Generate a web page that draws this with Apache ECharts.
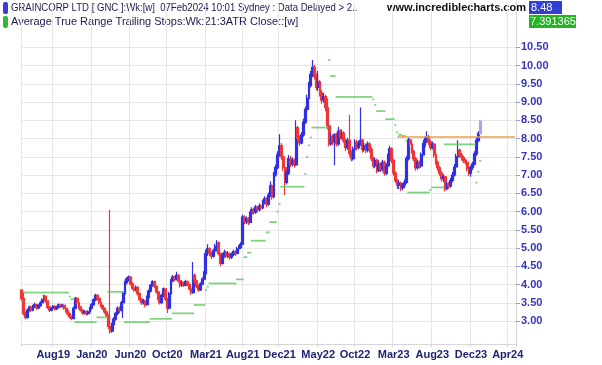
<!DOCTYPE html>
<html>
<head>
<meta charset="utf-8">
<script src="https://cdn.jsdelivr.net/npm/echarts@6/dist/echarts.min.js"></script>
<style>
  html, body { margin: 0; padding: 0; background: #fff; }
  #chart { width: 602px; height: 365px; }
</style>
</head>
<body>
<div id="chart"></div>
<script>
// weekly bars, GNC, from week of 29 Apr 2019 to week of 5 Feb 2024
const opens = [
  3.85, 3.62, 3.20, 3.10, 3.30, 3.38, 3.30, 3.40, 3.45, 3.36,
  3.42, 3.50, 3.58, 3.68, 3.55, 3.38, 3.30, 3.35, 3.40, 3.33,
  3.38, 3.44, 3.40, 3.43, 3.35, 3.28, 3.20, 3.12, 3.07, 3.35,
  3.62, 3.50, 3.38, 3.30, 3.22, 3.26, 3.20, 3.25, 3.35, 3.45,
  3.58, 3.70, 3.62, 3.50, 3.42, 3.35, 3.25, 3.15, 2.85, 2.72,
  2.90, 3.05, 3.20, 3.35, 3.30, 3.50, 3.75, 4.05, 4.15, 4.20,
  4.02, 3.90, 3.85, 3.92, 3.75, 3.60, 3.50, 3.55, 3.45, 3.65,
  3.82, 3.98, 4.08, 3.95, 3.80, 3.62, 3.50, 3.70, 3.88, 3.60,
  3.35, 3.75, 4.10, 4.20, 4.15, 4.25, 4.10, 3.98, 4.05, 3.98,
  4.08, 4.00, 3.88, 3.78, 4.25, 4.10, 3.95, 3.85, 4.02, 4.15,
  4.30, 4.85, 4.98, 4.85, 4.78, 4.92, 5.05, 5.15, 4.85, 4.58,
  4.80, 4.88, 4.78, 4.85, 4.75, 4.82, 4.90, 4.85, 4.98, 5.02,
  5.10, 5.85, 5.72, 5.80, 5.70, 5.95, 6.05, 5.98, 6.12, 6.05,
  6.15, 6.10, 6.25, 6.35, 6.20, 6.45, 6.70, 6.40, 7.00, 7.20,
  7.55, 7.80, 7.50, 7.20, 6.80, 7.05, 7.45, 7.30, 7.40, 7.28,
  8.30, 8.00, 7.88, 8.10, 8.45, 8.80, 9.10, 9.45, 9.75, 9.95,
  9.70, 9.40, 9.55, 9.25, 9.05, 9.15, 8.85, 8.35, 7.85, 8.05,
  7.90, 8.10, 7.85, 8.20, 8.05, 8.15, 7.95, 7.75, 7.95, 7.60,
  7.45, 7.70, 7.90, 7.75, 7.85, 7.95, 7.70, 7.80, 7.68, 7.85,
  7.70, 7.45, 7.25, 7.40, 7.12, 7.30, 7.15, 7.35, 7.05, 7.25,
  7.50, 7.72, 7.40, 7.05, 6.85, 6.72, 6.78, 6.65, 6.72, 6.80,
  7.45, 7.96, 7.85, 7.65, 7.45, 7.20, 7.35, 7.25, 7.55, 7.80,
  7.95, 8.05, 7.90, 7.75, 7.85, 7.55, 7.35, 7.20, 7.05, 6.90,
  6.95, 6.62, 6.75, 6.70, 6.85, 7.00, 7.22, 7.50, 7.68, 7.55,
  7.48, 7.40, 7.35, 7.18, 7.05, 7.20, 7.30, 7.58, 7.95, 8.14
];
const closes = [
  3.62, 3.20, 3.10, 3.30, 3.38, 3.30, 3.40, 3.45, 3.36, 3.42,
  3.50, 3.58, 3.68, 3.55, 3.38, 3.30, 3.35, 3.40, 3.33, 3.38,
  3.44, 3.40, 3.43, 3.35, 3.28, 3.20, 3.12, 3.07, 3.35, 3.62,
  3.50, 3.38, 3.30, 3.22, 3.26, 3.20, 3.25, 3.35, 3.45, 3.58,
  3.70, 3.62, 3.50, 3.42, 3.35, 3.25, 3.15, 2.85, 2.72, 2.90,
  3.05, 3.20, 3.35, 3.30, 3.50, 3.75, 4.05, 4.15, 4.20, 4.02,
  3.90, 3.85, 3.92, 3.75, 3.60, 3.50, 3.55, 3.45, 3.65, 3.82,
  3.98, 4.08, 3.95, 3.80, 3.62, 3.50, 3.70, 3.88, 3.60, 3.35,
  3.75, 4.10, 4.20, 4.15, 4.25, 4.10, 3.98, 4.05, 3.98, 4.08,
  4.00, 3.88, 3.78, 4.25, 4.10, 3.95, 3.85, 4.02, 4.15, 4.30,
  4.85, 4.98, 4.85, 4.78, 4.92, 5.05, 5.15, 4.85, 4.58, 4.80,
  4.88, 4.78, 4.85, 4.75, 4.82, 4.90, 4.85, 4.98, 5.02, 5.10,
  5.85, 5.72, 5.80, 5.70, 5.95, 6.05, 5.98, 6.12, 6.05, 6.15,
  6.10, 6.25, 6.35, 6.20, 6.45, 6.70, 6.40, 7.00, 7.20, 7.55,
  7.80, 7.50, 7.20, 6.80, 7.05, 7.45, 7.30, 7.40, 7.28, 8.30,
  8.00, 7.88, 8.10, 8.45, 8.80, 9.10, 9.45, 9.75, 9.95, 9.70,
  9.40, 9.55, 9.25, 9.05, 9.15, 8.85, 8.35, 7.85, 8.05, 7.90,
  8.10, 7.85, 8.20, 8.05, 8.15, 7.95, 7.75, 7.95, 7.60, 7.45,
  7.70, 7.90, 7.75, 7.85, 7.95, 7.70, 7.80, 7.68, 7.85, 7.70,
  7.45, 7.25, 7.40, 7.12, 7.30, 7.15, 7.35, 7.05, 7.25, 7.50,
  7.72, 7.40, 7.05, 6.85, 6.72, 6.78, 6.65, 6.72, 6.80, 7.45,
  7.96, 7.85, 7.65, 7.45, 7.20, 7.35, 7.25, 7.55, 7.80, 7.95,
  8.05, 7.90, 7.75, 7.85, 7.55, 7.35, 7.20, 7.05, 6.90, 6.95,
  6.62, 6.75, 6.70, 6.85, 7.00, 7.22, 7.50, 7.68, 7.55, 7.48,
  7.40, 7.35, 7.18, 7.05, 7.20, 7.30, 7.58, 7.95, 8.14, 8.48
];
const lows = [
  3.55, 3.15, 3.04, 3.06, 3.26, 3.25, 3.27, 3.36, 3.31, 3.32,
  3.39, 3.46, 3.55, 3.50, 3.33, 3.25, 3.26, 3.31, 3.29, 3.30,
  3.34, 3.35, 3.36, 3.31, 3.23, 3.15, 3.07, 3.02, 3.04, 3.32,
  3.45, 3.33, 3.26, 3.17, 3.18, 3.15, 3.16, 3.22, 3.31, 3.42,
  3.55, 3.57, 3.45, 3.37, 3.30, 3.20, 3.10, 2.78, 2.65, 2.68,
  2.86, 3.01, 3.16, 3.22, 3.26, 3.08, 3.72, 4.00, 4.08, 3.97,
  3.85, 3.80, 3.81, 3.70, 3.55, 3.44, 3.45, 3.38, 3.42, 3.62,
  3.78, 3.94, 3.90, 3.75, 3.57, 3.45, 3.47, 3.66, 3.55, 3.22,
  3.32, 3.72, 4.06, 4.09, 4.11, 4.05, 3.92, 3.94, 3.93, 3.95,
  3.95, 3.83, 3.72, 3.75, 4.04, 3.90, 3.80, 3.82, 3.98, 4.12,
  4.27, 4.78, 4.78, 4.70, 4.74, 4.88, 5.00, 4.80, 4.50, 4.55,
  4.74, 4.72, 4.73, 4.68, 4.70, 4.78, 4.79, 4.82, 4.93, 4.98,
  5.08, 5.65, 5.66, 5.63, 5.67, 5.90, 5.91, 5.94, 5.98, 6.01,
  6.03, 6.06, 6.20, 6.12, 6.16, 6.40, 6.32, 6.36, 6.95, 7.15,
  7.50, 7.42, 7.12, 6.45, 6.74, 7.00, 7.22, 7.24, 7.20, 7.25,
  7.92, 7.80, 7.84, 8.05, 8.40, 8.75, 9.05, 9.40, 9.68, 9.62,
  9.32, 9.30, 9.15, 8.95, 8.98, 8.75, 8.25, 7.78, 7.80, 7.82,
  7.27, 7.78, 7.80, 7.98, 7.98, 7.88, 7.66, 7.70, 7.50, 7.38,
  7.40, 7.64, 7.68, 7.70, 7.80, 7.62, 7.64, 7.60, 7.62, 7.62,
  7.38, 7.18, 7.20, 7.05, 7.08, 7.08, 7.10, 6.98, 7.00, 7.20,
  7.45, 7.32, 6.98, 6.78, 6.62, 6.62, 6.56, 6.58, 6.64, 6.76,
  7.40, 7.78, 7.58, 7.38, 7.12, 7.15, 7.18, 7.20, 7.50, 7.74,
  7.88, 7.82, 7.68, 7.70, 7.48, 7.28, 7.12, 6.98, 6.82, 6.80,
  6.55, 6.58, 6.62, 6.65, 6.80, 6.96, 7.18, 7.45, 7.48, 7.40,
  7.32, 7.28, 7.10, 6.98, 6.95, 7.14, 7.26, 7.52, 7.90, 8.10
];
const highs = [
  3.88, 3.80, 3.26, 3.34, 3.42, 3.42, 3.44, 3.50, 3.48, 3.46,
  3.54, 3.62, 3.72, 3.70, 3.57, 3.41, 3.39, 3.44, 3.43, 3.42,
  3.48, 3.47, 3.47, 3.45, 3.37, 3.30, 3.23, 3.15, 3.40, 3.66,
  3.65, 3.52, 3.41, 3.33, 3.30, 3.29, 3.29, 3.39, 3.49, 3.62,
  3.75, 3.73, 3.65, 3.53, 3.45, 3.38, 3.28, 3.18, 6.05, 2.95,
  3.10, 3.25, 3.40, 3.40, 3.55, 3.80, 4.10, 4.20, 4.25, 4.23,
  4.06, 3.95, 3.97, 3.95, 3.78, 3.63, 3.60, 3.58, 3.70, 3.86,
  4.02, 4.12, 4.10, 3.98, 3.83, 3.66, 3.74, 3.92, 3.90, 3.63,
  3.80, 4.15, 4.26, 4.24, 4.35, 4.28, 4.13, 4.10, 4.08, 4.13,
  4.11, 4.03, 3.91, 4.62, 4.30, 4.14, 3.99, 4.06, 4.20, 4.36,
  4.95, 5.10, 5.02, 4.90, 4.98, 5.12, 5.22, 5.18, 4.88, 4.86,
  4.95, 4.92, 4.92, 4.88, 4.88, 4.96, 4.94, 5.03, 5.08, 5.16,
  5.92, 5.90, 5.86, 5.84, 6.00, 6.12, 6.10, 6.18, 6.16, 6.22,
  6.20, 6.32, 6.42, 6.39, 6.52, 6.82, 6.74, 7.08, 7.28, 7.65,
  8.12, 7.88, 7.55, 7.25, 7.12, 7.55, 7.52, 7.48, 7.45, 8.50,
  8.35, 8.08, 8.18, 8.55, 8.88, 9.20, 9.55, 9.85, 10.15, 10.02,
  9.78, 9.85, 9.60, 9.32, 9.25, 9.20, 9.10, 8.42, 8.14, 8.12,
  8.15, 8.16, 8.32, 8.26, 8.24, 8.20, 8.00, 8.02, 8.65, 7.68,
  7.78, 7.98, 7.96, 7.94, 8.85, 8.00, 7.88, 7.86, 7.92, 7.90,
  7.76, 7.50, 7.48, 7.45, 7.38, 7.34, 7.42, 7.40, 7.32, 7.58,
  7.80, 7.76, 7.45, 7.10, 6.90, 6.85, 6.82, 6.78, 6.88, 7.52,
  8.02, 8.00, 7.90, 7.70, 7.50, 7.42, 7.40, 7.62, 7.88, 8.02,
  8.20, 8.10, 7.95, 7.92, 7.88, 7.60, 7.40, 7.25, 7.10, 7.02,
  6.98, 6.82, 6.80, 6.92, 7.08, 7.30, 7.58, 7.95, 7.72, 7.60,
  7.52, 7.45, 7.40, 7.22, 7.26, 7.36, 7.65, 8.02, 8.20, 8.50
];
// ATR trailing stop (21 wk, 3 ATR)
const stops = [
  3.55, 3.78, 3.78, 3.78, 3.78, 3.78, 3.78, 3.78, 3.78, 3.78,
  3.78, 3.78, 3.78, 3.78, 3.78, 3.78, 3.78, 3.78, 3.78, 3.78,
  3.78, 3.78, 3.78, 3.78, 3.78, 3.78, 3.67, 3.60, 3.60, 2.97,
  2.97, 2.97, 2.97, 2.97, 2.97, 2.97, 2.97, 2.97, 2.97, 2.97,
  2.97, 3.10, 3.10, 3.10, 3.10, 3.10, 3.10, 3.80, 3.80, 3.80,
  3.80, 3.80, 3.80, 3.80, 3.80, 3.80, 2.97, 2.97, 2.97, 2.97,
  2.97, 2.97, 2.97, 2.97, 2.97, 2.97, 2.97, 2.97, 2.97, 2.97,
  3.06, 3.06, 3.06, 3.06, 3.06, 3.06, 3.06, 3.06, 3.06, 3.06,
  3.06, 3.06, 3.21, 3.21, 3.21, 3.21, 3.21, 3.21, 3.21, 3.21,
  3.21, 3.21, 3.21, 3.21, 3.44, 3.44, 3.44, 3.44, 3.44, 3.44,
  3.85, 3.94, 4.03, 4.03, 4.03, 4.03, 4.03, 4.03, 4.03, 4.03,
  4.03, 4.03, 4.03, 4.03, 4.03, 4.03, 4.03, 4.14, 4.14, 4.14,
  4.14, 4.75, 4.75, 4.87, 4.87, 5.20, 5.20, 5.20, 5.20, 5.20,
  5.20, 5.20, 5.20, 5.43, 5.43, 5.71, 5.71, 5.71, 5.71, 6.00,
  6.20, 6.68, 6.68, 6.68, 6.68, 6.68, 6.68, 6.68, 6.68, 6.68,
  6.68, 6.68, 6.68, 6.68, 7.03, 7.50, 7.81, 8.03, 8.30, 8.30,
  8.30, 8.30, 8.30, 8.30, 8.30, 8.30, 8.30, 10.15, 9.71, 9.71,
  9.71, 9.14, 9.14, 9.14, 9.14, 9.14, 9.14, 9.14, 9.14, 9.14,
  9.14, 9.14, 9.14, 9.14, 9.14, 9.14, 9.14, 9.14, 9.14, 9.14,
  9.14, 9.07, 8.92, 8.75, 8.75, 8.75, 8.75, 8.75, 8.53, 8.53,
  8.53, 8.53, 8.53, 8.37, 8.17, 8.10, 8.10, 8.07, 8.07, 7.93,
  6.52, 6.52, 6.52, 6.52, 6.52, 6.52, 6.52, 6.52, 6.52, 6.52,
  6.52, 6.52, 6.59, 6.66, 6.66, 6.66, 6.66, 6.66, 6.66, 6.66,
  7.84, 7.84, 7.84, 7.84, 7.84, 7.84, 7.84, 7.84, 7.84, 7.84,
  7.84, 7.84, 7.84, 7.84, 7.84, 7.84, 7.84, 6.79, 7.09, 7.391365
];
const resistanceLevel = 8.05;
const resistanceFromWeek = 204;

const xTickLabels = ['Aug19', 'Jan20', 'Jun20', 'Oct20', 'Mar21', 'Aug21', 'Dec21', 'May22', 'Oct22', 'Mar23', 'Aug23', 'Dec23', 'Apr24'];
const xTickWeeks = [17, 38, 59, 79, 100, 120, 140, 161, 181, 202, 223, 244, 264];
const yTickValues = [3.0, 3.5, 4.0, 4.5, 5.0, 5.5, 6.0, 6.5, 7.0, 7.5, 8.0, 8.5, 9.0, 9.5, 10.0, 10.5];

// axis runs a few months past the last bar
const totalWeeks = 269;
const start = Date.UTC(2019, 3, 29);
const weeks = [];
for (let i = 0; i < totalWeeks; i++) {
  weeks.push(new Date(start + i * 7 * 86400000).toISOString().slice(0, 10));
}

const UP = '#3030e4';
const DOWN = '#f03636';
const FONT = '"Liberation Sans", Arial, sans-serif';

const last = closes.length - 1;
const bars = closes.map(function (c, i) {
  const v = [opens[i], c, lows[i], highs[i]];
  if (i === last) {
    // current (unfinished) week drawn lighter
    return { value: v, itemStyle: { color: '#a5a5f2', borderColor: '#a5a5f2' } };
  }
  return v;
});

const isTick = function (index) {
  return index === 0 || xTickWeeks.indexOf(index) >= 0;
};

const chart = echarts.init(document.getElementById('chart'));
chart.setOption({
  animation: false,
  backgroundColor: '#fff',
  grid: { left: 21, right: 86, top: 2, bottom: 21 },
  xAxis: {
    type: 'category',
    data: weeks,
    boundaryGap: true,
    axisLine: { show: true, lineStyle: { color: '#d6d6d6' } },
    axisTick: { show: true, interval: isTick, length: 3, lineStyle: { color: '#d6d6d6' } },
    splitLine: { show: true, interval: isTick, lineStyle: { color: '#e6e6e6' } },
    axisLabel: {
      interval: function (index) { return xTickWeeks.indexOf(index) >= 0; },
      formatter: function (value, index) {
        const k = xTickWeeks.indexOf(index);
        return k >= 0 ? xTickLabels[k] : '';
      },
      color: '#1d2470',
      fontWeight: 'bold',
      fontSize: 11,
      fontFamily: FONT,
      margin: 5
    }
  },
  yAxis: {
    type: 'value',
    position: 'right',
    min: 2.37,
    max: 11.74,
    axisLine: { show: true, lineStyle: { color: '#d6d6d6' } },
    axisTick: { show: true, customValues: yTickValues, length: 4, lineStyle: { color: '#9a9ad0' } },
    splitLine: { show: true, lineStyle: { color: '#e6e6e6' } },
    axisLabel: {
      customValues: yTickValues,
      formatter: function (v) { return v.toFixed(2); },
      color: '#3535bd',
      fontWeight: 'bold',
      fontSize: 11,
      fontFamily: FONT,
      margin: 5
    }
  },
  series: [
    {
      type: 'candlestick',
      data: bars,
      barWidth: 2.4,
      itemStyle: {
        color: UP,
        color0: DOWN,
        borderColor: UP,
        borderColor0: DOWN,
        borderWidth: 1.2
      },
      markLine: {
        silent: true,
        symbol: 'none',
        label: { show: false },
        lineStyle: { color: '#eaa24c', width: 1.5, type: 'solid' },
        data: [[
          { coord: [weeks[resistanceFromWeek], resistanceLevel] },
          { coord: [weeks[totalWeeks - 1], resistanceLevel] }
        ]]
      },
      z: 3
    },
    {
      type: 'scatter',
      data: stops,
      symbol: 'rect',
      symbolSize: [2.1, 1.7],
      itemStyle: { color: '#5ec85e' },
      silent: true,
      z: 4
    }
  ],
  graphic: [
    { type: 'rect', left: 3, top: 2, shape: { width: 5, height: 12, r: 2 }, style: { fill: '#3b3bd8' } },
    { type: 'rect', left: 3, top: 16, shape: { width: 5, height: 12, r: 2 }, style: { fill: '#33b833' } },
    {
      type: 'text', left: 11, top: 2, scaleX: 0.87,
      style: { text: 'GRAINCORP LTD [ GNC ]:Wk:[w]  07Feb2024 10:01 Sydney : Data Delayed > 2..', font: '11px ' + FONT, fill: '#1a1a50' }
    },
    {
      type: 'text', left: 11, top: 16,
      style: { text: 'Average True Range Trailing Stops:Wk:21:3ATR Close::[w]', font: '11px ' + FONT, fill: '#1a1a50' }
    },
    {
      type: 'text', left: 387, top: 2,
      style: { text: 'www.incrediblecharts.com', font: 'bold 11px ' + FONT, fill: '#111' }
    },
    { type: 'rect', left: 529, top: 1, shape: { width: 33, height: 13 }, style: { fill: '#2f3fd8' } },
    {
      type: 'text', left: 531, top: 2,
      style: { text: closes[last].toFixed(2), font: '11px ' + FONT, fill: '#fff' }
    },
    { type: 'rect', left: 529, top: 15, shape: { width: 47, height: 13 }, style: { fill: '#22b522' } },
    {
      type: 'text', left: 530, top: 16,
      style: { text: String(stops[last]), font: '11px ' + FONT, fill: '#fff' }
    }
  ]
});

window.addEventListener('resize', function () { chart.resize(); });
</script>
</body>
</html>
